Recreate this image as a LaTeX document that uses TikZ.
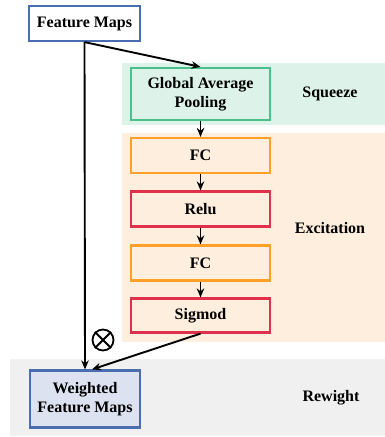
\documentclass[tikz,border=0pt]{standalone}
\usepackage{fontspec}
\setmainfont{Liberation Serif}
\usetikzlibrary{arrows.meta}
\definecolor{bblue}{HTML}{4A6DB0}
\definecolor{bgreen}{HTML}{4CC08A}
\definecolor{borange}{HTML}{FFA028}
\definecolor{bred}{HTML}{E0304C}
\definecolor{fgreen}{HTML}{DDF3EA}
\definecolor{forange}{HTML}{FDEEDD}
\definecolor{fgrey}{HTML}{F0F0F0}
\definecolor{fblue}{HTML}{DCE2F0}
\begin{document}
\begin{tikzpicture}[x=1pt,y=-1pt,
  box/.style={draw, line width=2.2pt, minimum width=139pt, align=center, font=\bfseries\fontsize{16}{19}\selectfont, inner sep=0pt},
  lbl/.style={font=\bfseries\fontsize{16}{19}\selectfont},
  arr/.style={-{Stealth[length=9pt,width=7.5pt]}, line width=1.9pt, black}]
\useasboundingbox (0,0) rectangle (385,437);
% backgrounds
\fill[fgreen] (122,63) rectangle (385,125);
\fill[forange] (122,133) rectangle (385,342);
\fill[fgrey] (10,359) rectangle (385,436);
% nodes
\node[box, draw=bblue, fill=white, minimum width=111pt, minimum height=35pt] (fm) at (84.5,23.5) {Feature Maps};
\node[box, draw=bgreen, fill=fgreen, minimum height=52pt] (gap) at (200.5,94) {Global Average\\Pooling};
\node[box, draw=borange, minimum height=35pt] (fc1) at (200.5,155.5) {FC};
\node[box, draw=bred, minimum height=35pt] (relu) at (200.5,209) {Relu};
\node[box, draw=borange, minimum height=35pt] (fc2) at (200.5,263) {FC};
\node[box, draw=bred, minimum height=34pt] (sig) at (200.5,315.5) {Sigmod};
\node[box, draw=bblue, fill=fblue, minimum width=110pt, minimum height=57pt] (wfm) at (85,399) {Weighted\\Feature Maps};
\node[lbl] (sq) at (330,94) {Squeeze};
\node[lbl] (ex) at (330,228) {Excitation};
\node[lbl] (rw) at (331,398) {Rewight};
\node[circle, draw, line width=1.8pt, minimum size=21pt, inner sep=0pt] (ot) at (103,340) {};
\draw[line width=1.8pt] (ot.45) -- (ot.225) (ot.135) -- (ot.315);
% connectors
\coordinate (wtop) at ([xshift=7pt]wfm.north);
\draw[arr] (fm.south) -- (gap.north);
\draw[arr] (fm.south) -- (wfm.north);
\draw[arr] (gap) -- (fc1);
\draw[arr] (fc1) -- (relu);
\draw[arr] (relu) -- (fc2);
\draw[arr] (fc2) -- (sig);
\draw[arr] (sig.south) -- (wtop);
\end{tikzpicture}
\end{document}
